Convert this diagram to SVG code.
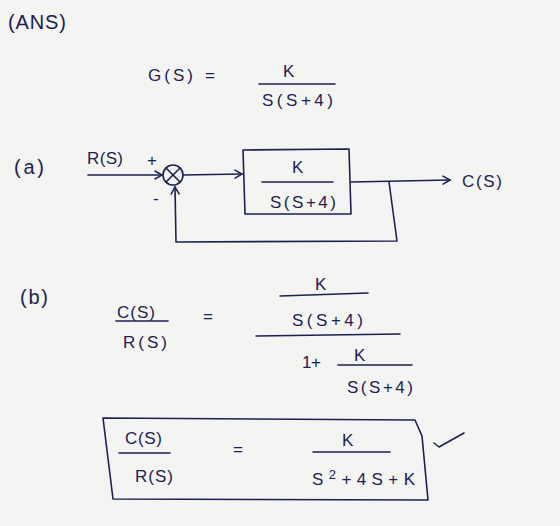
<svg xmlns="http://www.w3.org/2000/svg" width="560" height="526" viewBox="0 0 560 526">
<defs>
<style>
.ink{fill:#1d2152;font-family:"Liberation Sans","DejaVu Sans",sans-serif;font-size:17px}
.big{font-size:20px}
.ln{stroke:#1d2152;stroke-width:1.6;fill:none;stroke-linecap:round;stroke-linejoin:round}
</style>
<marker id="open" markerWidth="10" markerHeight="10" refX="8" refY="5" orient="auto" markerUnits="userSpaceOnUse">
<path d="M1,1 L8,5 L1,9" fill="none" stroke="#1d2152" stroke-width="1.5" stroke-linecap="round"/>
</marker>
</defs>
<rect width="560" height="526" fill="#f4f4f2"/>

<g id="title">
<text class="ink big" x="8" y="29" textLength="58">(ANS)</text>
</g>

<g id="plant-def">
<text class="ink" x="148" y="81" textLength="45">G(S)</text>
<text class="ink" x="205" y="81">=</text>
<text class="ink" x="283" y="77">K</text>
<line class="ln" x1="259" y1="84" x2="335" y2="84"/>
<text class="ink" x="262" y="106" textLength="71">S(S+4)</text>
</g>

<g id="part-a-label">
<text class="ink big" x="14" y="174" textLength="30">(a)</text>
</g>

<g id="input-label">
<text class="ink" x="87" y="164" font-size="14" textLength="36">R(S)</text>
<text class="ink" x="147" y="166">+</text>
<text class="ink" x="153" y="204">-</text>
</g>

<g id="summing-junction">
<ellipse class="ln" cx="173" cy="175" rx="10" ry="10"/>
<line class="ln" x1="166" y1="168" x2="180" y2="182"/>
<line class="ln" x1="180" y1="168" x2="166" y2="182"/>
</g>

<g id="plant-block">
<path class="ln" d="M243,150 L349,149 L351,214 L245,214 Z"/>
<text class="ink" x="292" y="173" font-size="14">K</text>
<line class="ln" x1="262" y1="182" x2="333" y2="182"/>
<text class="ink" x="270" y="208" textLength="66">S(S+4)</text>
</g>

<g id="output-label">
<text class="ink" x="462" y="187" textLength="40">C(S)</text>
</g>

<g id="connectors">
<line class="ln" x1="88" y1="175" x2="162" y2="175" marker-end="url(#open)"/>
<line class="ln" x1="183" y1="175" x2="242" y2="174" marker-end="url(#open)"/>
<line class="ln" x1="351" y1="182" x2="450" y2="180" marker-end="url(#open)"/>
<path class="ln" d="M389,182 L397,241 L176,242 L175,187" marker-end="url(#open)"/>
</g>

<g id="part-b-label">
<text class="ink big" x="20" y="304" textLength="28">(b)</text>
</g>

<g id="closed-loop-step">
<text class="ink" x="117" y="318" textLength="38">C(S)</text>
<line class="ln" x1="116" y1="321" x2="168" y2="321"/>
<text class="ink" x="123" y="348" textLength="44">R(S)</text>
<text class="ink" x="203" y="322">=</text>
<text class="ink" x="315" y="290">K</text>
<line class="ln" x1="280" y1="296" x2="368" y2="293"/>
<text class="ink" x="292" y="326" textLength="71">S(S+4)</text>
<line class="ln" x1="256" y1="336" x2="400" y2="334"/>
<text class="ink" x="302" y="368" textLength="19">1+</text>
<text class="ink" x="354" y="361" font-size="15">K</text>
<line class="ln" x1="338" y1="365" x2="412" y2="365"/>
<text class="ink" x="347" y="393" textLength="66">S(S+4)</text>
</g>

<g id="result-box">
<path class="ln" d="M103,418 L415,420 L422,436 L428,500 L113,499 Z"/>
<text class="ink" x="125" y="444" textLength="37">C(S)</text>
<line class="ln" x1="119" y1="453" x2="170" y2="453"/>
<text class="ink" x="135" y="482" textLength="38">R(S)</text>
<text class="ink" x="233" y="455">=</text>
<text class="ink" x="342" y="446">K</text>
<line class="ln" x1="313" y1="452" x2="390" y2="452"/>
<text class="ink" x="312" y="485" textLength="103">S<tspan font-size="13" dy="-6">2</tspan><tspan dy="6">+4S+K</tspan></text>
</g>

<g id="checkmark">
<path class="ln" d="M434,443 L439,447 L464,433"/>
</g>
</svg>
